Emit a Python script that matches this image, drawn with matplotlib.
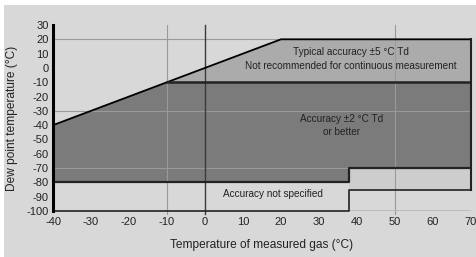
import matplotlib.pyplot as plt
from matplotlib.patches import Rectangle

plt.rcParams['font.family'] = ['Liberation Sans', 'DejaVu Sans']
plt.rcParams['axes.unicode_minus'] = False

# Measurement range boundaries (gas temperature x, dew point y)
upper_x = [-40, -10, 20, 70]
upper_y = [-40, -10, 20, 20]
good_limit = -10            # below this: accuracy +-2 degC Td
lower_x = [-40, 38, 38, 70]
lower_y = [-80, -80, -70, -70]
unspec_x = [-40, 38, 38, 70]
unspec_y = [-100, -100, -85, -85]

x_ticks = list(range(-40, 71, 10))
y_ticks = list(range(-100, 31, 10))

bg = '#d8d8d8'
txt = '#222222'
fig = plt.figure(figsize=(4.77, 2.57), dpi=100, facecolor='white')
fig.patches.append(Rectangle((4 / 477, 0), 1, 1 - 5 / 257, transform=fig.transFigure,
                             facecolor=bg, edgecolor='none', zorder=-10))
ax = fig.add_axes([53 / 477, 1 - 211 / 257, (471 - 53) / 477, (211 - 25) / 257])
ax.set_zorder(1)
ax.set_facecolor(bg)

# typical accuracy zone (between upper limit and -10)
med_x = [good_limit] + upper_x[2:] + [upper_x[-1]]
med_y = [good_limit] + upper_y[2:] + [good_limit]
ax.fill(med_x, med_y, color='#ababab', lw=0, zorder=1)

# accuracy +-2 zone
dark_x = upper_x[:2] + [upper_x[-1]] + lower_x[::-1]
dark_y = upper_y[:2] + [good_limit] + lower_y[::-1]
ax.fill(dark_x, dark_y, color='#7b7b7b', lw=0, zorder=1)

# band between lower limit and unspecified box on the right
ax.fill([lower_x[2], lower_x[3], unspec_x[3], unspec_x[2]],
        [lower_y[2], lower_y[3], unspec_y[3], unspec_y[2]],
        color='#cdcdcd', lw=0, zorder=1)

# grid lines
for gx in [-10, 50]:
    ax.plot([gx, gx], [-102, 30], color='#9a9a9a', lw=0.8, zorder=2, clip_on=False)
for gy in [20, -30, -70]:
    ax.plot([-40, 70], [gy, gy], color='#9a9a9a', lw=0.8, zorder=2)
ax.plot([38, 70], [-100, -100], color='#b8b8b8', lw=1.2, zorder=2)
ax.plot([0, 0], [-102, 30], color='#3a3a3a', lw=1.0, zorder=3, clip_on=False)

# boundary lines
ax.plot(upper_x, upper_y, color='black', lw=1.3, zorder=4)
ax.plot([upper_x[1], 70], [good_limit, good_limit], color='#222222', lw=1.8, zorder=4)
ax.plot(lower_x, lower_y, color='#222222', lw=1.6, zorder=4)
ax.plot([70, 70], [20, -85], color='#222222', lw=1.5, zorder=4, clip_on=False)
ax.plot(unspec_x, unspec_y, color='#222222', lw=1.2, zorder=4, clip_on=False)
ax.plot([-40, -40], [-100, 30], color='black', lw=2.2, zorder=5, clip_on=False)

fs = 7.2
ax.text(38.5, 11, 'Typical accuracy ±5 °C Td', ha='center', va='center', fontsize=fs, color=txt, zorder=6)
ax.text(38.5, 1.5, 'Not recommended for continuous measurement', ha='center', va='center', fontsize=fs, color=txt, zorder=6)
ax.text(36, -36, 'Accuracy ±2 °C Td', ha='center', va='center', fontsize=fs, color=txt, zorder=6)
ax.text(36, -45, 'or better', ha='center', va='center', fontsize=fs, color=txt, zorder=6)
ax.text(18, -88, 'Accuracy not specified', ha='center', va='center', fontsize=fs, color=txt, zorder=6)

ax.set_xlim(-40, 70)
ax.set_ylim(-100, 30)
ax.set_xticks(x_ticks)
ax.set_yticks(y_ticks)
ax.tick_params(length=0, labelsize=8, colors=txt, pad=4)
ax.tick_params(axis='y', pad=3)
for s in ax.spines.values():
    s.set_visible(False)

ax.set_xlabel('Temperature of measured gas (°C)', fontsize=8.6, color=txt, labelpad=9)
ax.set_ylabel('Dew point temperature (°C)', fontsize=8.6, color=txt, labelpad=6)

fig.savefig('out.png', dpi=100, facecolor=fig.get_facecolor())
